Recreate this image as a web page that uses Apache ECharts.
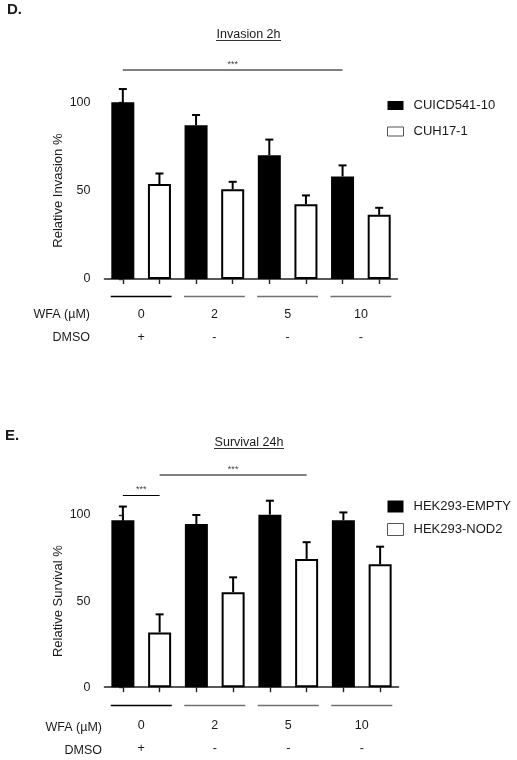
<!DOCTYPE html>
<html>
<head>
<meta charset="utf-8">
<script src="https://cdn.jsdelivr.net/npm/echarts@6/dist/echarts.min.js"></script>
<style>html,body{margin:0;padding:0;background:#fff}#c{width:517px;height:760px}</style>
</head>
<body>
<div id="c"></div>
<script>
// ---------- data ----------
const doses = ['0', '2', '5', '10'];
const dmso = ['+', '-', '-', '-'];
const barSlots = ['0a', '0b', '2a', '2b', '5a', '5b', '10a', '10b'];

// Panel D: Invasion 2h
const invNames = ['CUICD541-10', 'CUH17-1'];
const invCUICD = [100, 87, 70, 58];
const invCUICDErr = [7.5, 5.8, 8.9, 6.3];
const invCUH = [53.7, 50.8, 42.3, 36.3];
const invCUHErr = [6.0, 4.2, 5.0, 4.0];
const invSig = [{ from: 0, to: 6, level: 118.3, text: '***', color: '#808080' }];

// Panel E: Survival 24h
const survNames = ['HEK293-EMPTY', 'HEK293-NOD2'];
const survEmpty = [96.9, 94.8, 100.2, 96.9];
const survEmptyErr = [8.0, 5.2, 8.1, 4.6];
const survNod2 = [31.8, 55.2, 74.5, 71.4];
const survNod2Err = [10.5, 8.6, 9.7, 10.2];
const survSig = [
  { from: 1, to: 5, level: 123.5, text: '***', color: '#808080' },
  { from: 0, to: 1, level: 111.5, text: '***', color: '#000000' }
];

// ---------- helpers ----------
const FONT = 'Arial, "Liberation Sans", sans-serif';
const TXT = '#1a1a1a';

function interleave(vals, slot) {
  const out = [];
  vals.forEach(v => { if (slot === 0) { out.push(v, '-'); } else { out.push('-', v); } });
  return out;
}
function errData(vals, errs, slot) {
  return vals.map((v, i) => [2 * i + slot, v, errs[i]]);
}
function renderErr(params, api) {
  const x = api.value(0), v = api.value(1), e = api.value(2);
  const p0 = api.coord([x, v]);
  const p1 = api.coord([x, v + e]);
  return {
    type: 'group',
    children: [
      { type: 'line', shape: { x1: p0[0], y1: p0[1], x2: p1[0], y2: p1[1] }, style: { stroke: '#000', lineWidth: 2 } },
      { type: 'line', shape: { x1: p1[0] - 4, y1: p1[1], x2: p1[0] + 4, y2: p1[1] }, style: { stroke: '#000', lineWidth: 2 } }
    ]
  };
}

function panel(gi, cfg) {
  const xBase = gi * 3;
  const xAxes = [
    { gridIndex: gi, type: 'category', data: barSlots, position: 'bottom',
      axisLine: { lineStyle: { color: '#222', width: 1.6 } },
      axisTick: { show: true, alignWithLabel: true, interval: 0, length: 5, lineStyle: { color: '#222', width: 1.4 } },
      axisLabel: { show: false }, splitLine: { show: false } },
    { gridIndex: gi, type: 'value', min: -0.5, max: 7.5, show: false, position: 'top' },
    { gridIndex: gi, type: 'category', data: doses, position: 'bottom',
      axisLine: { show: false }, axisTick: { show: false },
      axisLabel: { interval: 0, margin: cfg.groupLabelMargin, fontFamily: FONT, fontSize: 12.5, color: TXT, lineHeight: 23,
        formatter: (v, i) => v + '\n' + dmso[i] } }
  ];
  const yAxis = {
    gridIndex: gi, type: 'value', min: 0, max: 100, interval: 50,
    axisLine: { show: true, lineStyle: { color: '#222', width: 1.6 } },
    axisTick: { show: true, length: 4, lineStyle: { color: '#222', width: 1.4 } },
    axisLabel: { margin: 14, fontFamily: FONT, fontSize: 12.5, color: TXT },
    splitLine: { show: false },
    name: cfg.yName, nameLocation: 'middle', nameGap: 40, nameMoveOverlap: false,
    nameTextStyle: { fontFamily: FONT, fontSize: 13, color: TXT }
  };
  const groupSegs = doses.map((d, i) => ({
    coords: [[2 * i - 0.33, cfg.groupLevel], [2 * i + 1.33, cfg.groupLevel]],
    lineStyle: { color: i === 0 ? '#000' : '#707070', width: 1.3 }
  }));
  const series = [
    { name: cfg.names[0], type: 'bar', xAxisIndex: xBase, yAxisIndex: gi, data: interleave(cfg.a, 0),
      barWidth: 23, barGap: '-100%', clip: false,
      itemStyle: { color: '#000', borderColor: '#000', borderWidth: 2 } },
    { name: cfg.names[1], type: 'bar', xAxisIndex: xBase, yAxisIndex: gi, data: interleave(cfg.b, 1),
      barWidth: 23, barGap: '-100%', clip: false,
      itemStyle: { color: '#fff', borderColor: '#000', borderWidth: 2 } },
    { type: 'custom', xAxisIndex: xBase, yAxisIndex: gi, renderItem: renderErr, clip: false, silent: true,
      data: errData(cfg.a, cfg.aErr, 0).concat(errData(cfg.b, cfg.bErr, 1)), encode: { x: 0, y: 1 }, z: 1 },
    { type: 'lines', coordinateSystem: 'cartesian2d', xAxisIndex: xBase + 1, yAxisIndex: gi, clip: false, silent: true,
      polyline: false, symbol: 'none',
      label: { show: true, position: 'middle', distance: 1, formatter: '{b}', fontFamily: FONT, fontSize: 9, color: '#444' },
      data: cfg.sig.map(s => ({ name: s.text, coords: [[s.from, s.level], [s.to, s.level]],
        lineStyle: { color: s.color, width: s.color === '#000000' ? 1.2 : 1.8, opacity: 1 } })) },
    { type: 'lines', coordinateSystem: 'cartesian2d', xAxisIndex: xBase + 1, yAxisIndex: gi, clip: false, silent: true,
      polyline: false, symbol: 'none', lineStyle: { opacity: 1 }, data: groupSegs }
  ];
  return { xAxes, yAxis, series };
}

const pD = panel(0, {
  names: invNames, a: invCUICD, aErr: invCUICDErr, b: invCUH, bErr: invCUHErr,
  sig: invSig, yName: 'Relative Invasion %', groupLevel: -9.6, groupLabelMargin: 24.5
});
const pE = panel(1, {
  names: survNames, a: survEmpty, aErr: survEmptyErr, b: survNod2, bErr: survNod2Err,
  sig: survSig, yName: 'Relative Survival %', groupLevel: -10.5, groupLabelMargin: 26.8
});

function legend(names, top, itemH, gap) {
  return {
    orient: 'vertical', left: 387, top: top, padding: 0, itemGap: gap,
    itemWidth: 16, itemHeight: itemH, icon: 'rect',
    textStyle: { fontFamily: FONT, fontSize: 13, color: TXT, padding: [0, 0, 0, 5] },
    selectedMode: false,
    data: [
      { name: names[0], itemStyle: { color: '#000', borderColor: '#000', borderWidth: 0 } },
      { name: names[1], itemStyle: { color: '#fff', borderColor: '#555', borderWidth: 1 } }
    ]
  };
}

function txt(text, x, y, opts) {
  return Object.assign({ type: 'text', x: x, y: y, silent: true,
    style: Object.assign({ text: text, font: '12.5px ' + FONT, fill: TXT, align: 'left', verticalAlign: 'middle' }, opts || {}) });
}
function uline(x1, x2, y) {
  return { type: 'line', silent: true, shape: { x1: x1, y1: y, x2: x2, y2: y }, style: { stroke: '#333', lineWidth: 1 } };
}

const chart = echarts.init(document.getElementById('c'), null, { renderer: 'canvas' });
chart.setOption({
  animation: false,
  backgroundColor: '#fff',
  grid: [
    { left: 104.5, top: 102.3, width: 293, height: 176.7 },
    { left: 104.5, top: 515, width: 294, height: 174.7 }
  ],
  xAxis: pD.xAxes.concat(pE.xAxes),
  yAxis: [pD.yAxis, pE.yAxis],
  legend: [legend(invNames, 99, 9, 13), legend(survNames, 500, 12, 10)],
  series: pD.series.concat(pE.series),
  graphic: [
    txt('D.', 7, 10, { font: 'bold 15px ' + FONT }),
    txt('Invasion 2h', 248.5, 34.5, { align: 'center' }),
    uline(216, 281, 40.5),
    txt('WFA (\u00B5M)', 90, 315, { align: 'right' }),
    txt('DMSO', 90, 338, { align: 'right' }),
    txt('E.', 5, 436, { font: 'bold 15px ' + FONT }),
    txt('Survival 24h', 249, 442.5, { align: 'center' }),
    uline(214, 284, 448.5),
    txt('WFA (\u00B5M)', 102, 728, { align: 'right' }),
    txt('DMSO', 102, 751, { align: 'right' })
  ]
});
</script>
</body>
</html>
